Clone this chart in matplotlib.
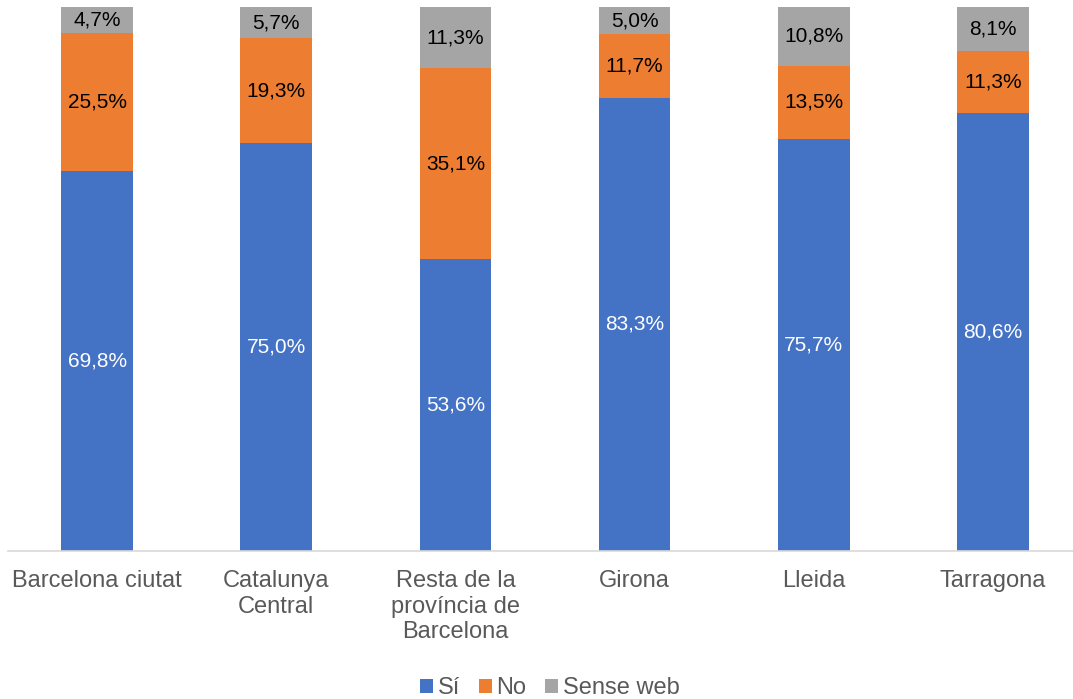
import matplotlib.pyplot as plt
import numpy as np

plt.rcParams['font.family'] = ['Liberation Sans', 'DejaVu Sans']

categories = ['Barcelona ciutat', 'Catalunya\nCentral', 'Resta de la\nprovíncia de\nBarcelona',
              'Girona', 'Lleida', 'Tarragona']
si = [69.8, 75.0, 53.6, 83.3, 75.7, 80.6]
no = [25.5, 19.3, 35.1, 11.7, 13.5, 11.3]
sense_web = [4.7, 5.7, 11.3, 5.0, 10.8, 8.1]

series = [('Sí', si, '#4472C4', 'white'),
          ('No', no, '#ED7D31', 'black'),
          ('Sense web', sense_web, '#A5A5A5', 'black')]

fig = plt.figure(figsize=(10.73, 6.99), dpi=100)
ax = fig.add_axes([7.5 / 1073, 148 / 699, 1075 / 1073, 544 / 699])

x = np.arange(len(categories))
bottom = np.zeros(len(categories))
for name, vals, color, tcolor in series:
    vals = np.array(vals)
    bars = ax.bar(x, vals, 0.4, bottom=bottom, color=color, label=name)
    for xi, b, v in zip(x, bottom, vals):
        ax.text(xi, b + v / 2, f'{v:.1f}%'.replace('.', ','), ha='center', va='center',
                fontsize=15, color=tcolor)
    bottom += vals

ax.set_xlim(-0.5, len(categories) - 0.5)
ax.set_ylim(0, 100)
ax.set_yticks([])
ax.set_xticks(x)
ax.set_xticklabels(categories, fontsize=17, color='#595959', va='top')
ax.tick_params(axis='x', length=0, pad=14)
for s in ['top', 'right', 'left']:
    ax.spines[s].set_visible(False)
ax.spines['bottom'].set_color('#D9D9D9')
ax.spines['bottom'].set_linewidth(1.2)

leg = fig.legend(loc='center', bbox_to_anchor=(550 / 1073, 1 - 688 / 699), ncol=3, frameon=False,
                 fontsize=17, handlelength=0.55, handleheight=0.55, handletextpad=0.2,
                 columnspacing=0.8)
for t in leg.get_texts():
    t.set_color('#595959')

fig.savefig('out.png', dpi=100)
